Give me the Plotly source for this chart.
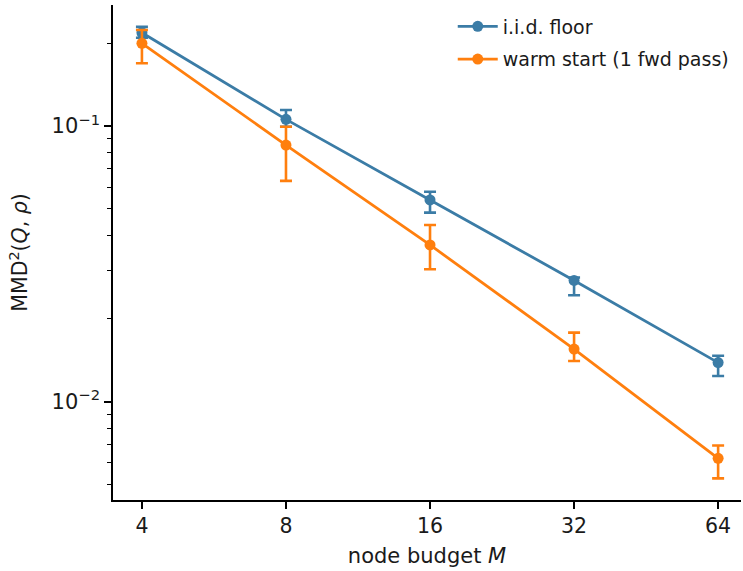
import plotly.graph_objects as go

M = [4, 8, 16, 32, 64]
iid_mean = [0.218, 0.1057, 0.0539, 0.0275, 0.01384]
iid_hi = [0.229, 0.1143, 0.0577, 0.0282, 0.01466]
iid_lo = [0.209, 0.0994, 0.0485, 0.0243, 0.01238]
warm_mean = [0.1996, 0.0853, 0.0370, 0.0155, 0.00622]
warm_hi = [0.223, 0.0994, 0.0437, 0.01778, 0.00692]
warm_lo = [0.169, 0.0632, 0.0302, 0.01403, 0.00526]

series = [
    ("i.i.d. floor", iid_mean, iid_hi, iid_lo, "#3b7ca6"),
    ("warm start (1 fwd pass)", warm_mean, warm_hi, warm_lo, "#ff7f0e"),
]

fig = go.Figure()
for i, (name, mean, hi, lo, col) in enumerate(series):
    fig.add_trace(go.Scatter(
        x=M, y=mean, name=name, mode="lines+markers", legendgroup=f"g{i}",
        line=dict(color=col, width=2.8),
        marker=dict(color=col, size=11),
        error_y=dict(type="data", symmetric=False,
                     array=[h - m for h, m in zip(hi, mean)],
                     arrayminus=[m - l for m, l in zip(mean, lo)],
                     color=col, thickness=2.6, width=6),
    ))

font = "DejaVu Sans"
minor_y = [0.005, 0.006, 0.007, 0.008, 0.009,
           0.02, 0.03, 0.04, 0.05, 0.06, 0.07, 0.08, 0.09, 0.2]
fig.update_layout(
    width=743, height=571,
    margin=dict(l=113, r=2, t=5, b=71),
    paper_bgcolor="white", plot_bgcolor="white",
    font=dict(family=font, size=20, color="#1a1a1a"),
    showlegend=True,
    legend=dict(x=0.541, y=0.995, xanchor="left", yanchor="top",
                font=dict(size=19, family=font), bgcolor="rgba(255,255,255,0)",
                tracegroupgap=5, itemwidth=40),
    xaxis=dict(type="log", range=[0.5416, 1.854],
               tickvals=M, ticktext=[str(v) for v in M],
               ticks="outside", ticklen=7, tickwidth=1.6, tickcolor="black",
               showline=True, linecolor="black", linewidth=1.6,
               showgrid=False, zeroline=False,
               title=dict(text="node budget <i>M</i>", font=dict(size=21), standoff=11),
               tickfont=dict(size=20.5)),
    yaxis=dict(type="log", range=[-2.3575, -0.5608],
               tickvals=[0.01, 0.1], ticktext=["10<sup>−2</sup>", "10<sup>−1</sup>"],
               ticks="outside", ticklen=7, tickwidth=1.6, tickcolor="black",
               showline=True, linecolor="black", linewidth=1.6,
               showgrid=False, zeroline=False,
               minor=dict(tickvals=minor_y, ticks="outside", ticklen=4,
                          tickwidth=1.2, tickcolor="black", showgrid=False),
               title=dict(text="MMD<sup>2</sup>(<i>Q</i>, <i>ρ</i>)", font=dict(size=20.5), standoff=18),
               tickfont=dict(size=21)),
)
fig.write_html("out.html")
